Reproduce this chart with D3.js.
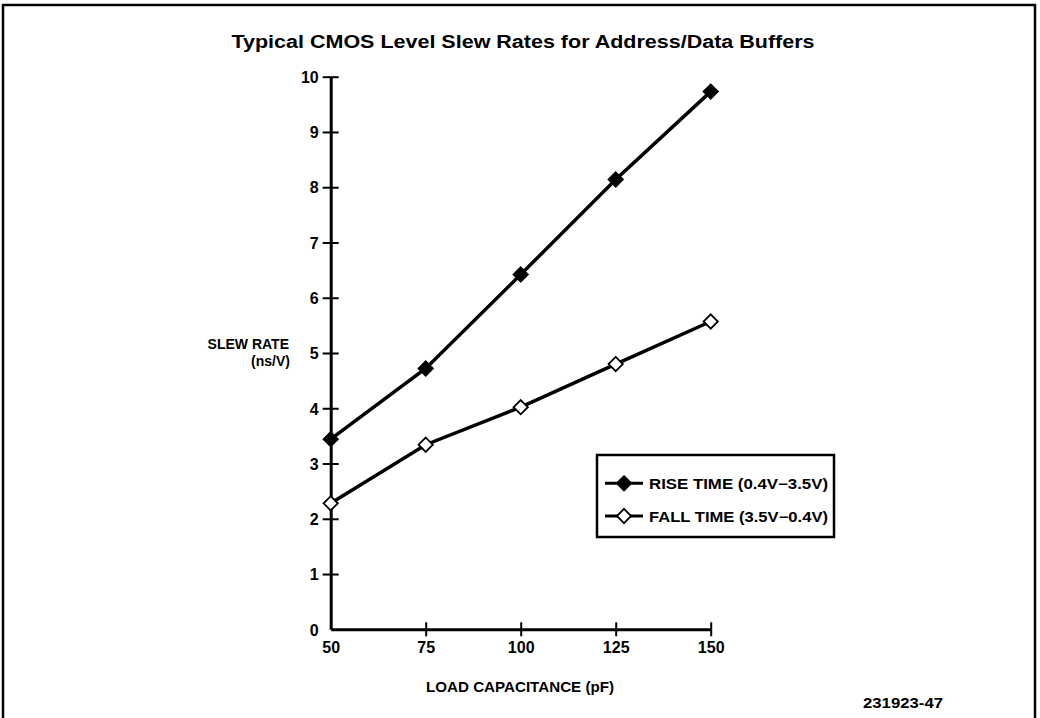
<!DOCTYPE html>
<html>
<head>
<meta charset="utf-8">
<script src="https://cdn.jsdelivr.net/npm/d3@7"></script>
<style>
  html, body { margin: 0; padding: 0; background: #fff; }
  svg { display: block; }
  text { font-family: "Liberation Sans", Arial, sans-serif; fill: #000; }
</style>
</head>
<body>
<svg id="chart" width="1040" height="718"></svg>
<script>
// ---- data ----
const capacitance = [50, 75, 100, 125, 150];
const riseTime = [3.44, 4.72, 6.42, 8.14, 9.73];
const fallTime = [2.28, 3.34, 4.02, 4.80, 5.57];
const xTicks = [50, 75, 100, 125, 150];
const yTicks = [0, 1, 2, 3, 4, 5, 6, 7, 8, 9, 10];
const seriesNames = ["RISE TIME (0.4V\u22123.5V)", "FALL TIME (3.5V\u22120.4V)"];
const titleText = "Typical CMOS Level Slew Rates for Address/Data Buffers";
const yLabelLines = ["SLEW RATE", "(ns/V)"];
const xLabelText = "LOAD CAPACITANCE (pF)";
const figureId = "231923-47";

const svg = d3.select("#chart");

// frame
svg.append("path")
  .attr("d", "M3,718 V5 H1035 V718")
  .attr("fill", "none").attr("stroke", "#000").attr("stroke-width", 2.5);

const x = d3.scaleLinear().domain([50, 150]).range([330.7, 710.7]);
const y = d3.scaleLinear().domain([0, 10]).range([629.3, 76.7]);

// title
svg.append("text")
  .attr("x", 523).attr("y", 48)
  .attr("text-anchor", "middle")
  .attr("font-size", 18).attr("font-weight", "bold")
  .attr("textLength", 583).attr("lengthAdjust", "spacingAndGlyphs")
  .text(titleText);

// y axis
const yAxis = d3.axisLeft(y).tickValues(yTicks).tickFormat(d3.format("d"))
  .tickSize(0).tickPadding(12);
const gy = svg.append("g").attr("transform", `translate(${x(50)},0)`).call(yAxis);
gy.select(".domain").attr("stroke", "#000").attr("stroke-width", 3);
gy.selectAll(".tick text")
  .attr("font-size", 16).attr("font-weight", "bold")
  .attr("font-family", "Liberation Sans, Arial, sans-serif")
  .attr("fill", "#000").attr("dy", "0.36em");
gy.selectAll(".tick").filter(d => d > 0).append("line")
  .attr("x1", -8).attr("x2", 8).attr("stroke", "#000").attr("stroke-width", 2);

// x axis
const xAxis = d3.axisBottom(x).tickValues(xTicks).tickFormat(d3.format("d"))
  .tickSize(0).tickPadding(14);
const gx = svg.append("g").attr("transform", `translate(0,${y(0)})`).call(xAxis);
gx.select(".domain").attr("stroke", "#000").attr("stroke-width", 3);
gx.selectAll(".tick text")
  .attr("font-size", 16).attr("font-weight", "bold")
  .attr("font-family", "Liberation Sans, Arial, sans-serif")
  .attr("fill", "#000").attr("dy", "0.6em");
gx.selectAll(".tick").filter(d => d > 50).append("line")
  .attr("y1", -7).attr("y2", 7).attr("stroke", "#000").attr("stroke-width", 2);

// axis labels
const yl = svg.append("text")
  .attr("text-anchor", "end").attr("font-size", 14).attr("font-weight", "bold");
yl.append("tspan").attr("x", 289).attr("y", 349).text(yLabelLines[0]);
yl.append("tspan").attr("x", 290).attr("y", 366).text(yLabelLines[1]);

svg.append("text")
  .attr("x", 520).attr("y", 692)
  .attr("text-anchor", "middle").attr("font-size", 15).attr("font-weight", "bold")
  .attr("textLength", 188).attr("lengthAdjust", "spacingAndGlyphs")
  .text(xLabelText);

svg.append("text")
  .attr("x", 943).attr("y", 708)
  .attr("text-anchor", "end").attr("font-size", 15).attr("font-weight", "bold")
  .attr("textLength", 80).attr("lengthAdjust", "spacingAndGlyphs")
  .text(figureId);

// series
const line = d3.line().x(d => x(d[0])).y(d => y(d[1]));
const diamond = d3.symbol().type(d3.symbolDiamond2).size(130);

const series = [
  { values: riseTime, fill: "#000" },
  { values: fallTime, fill: "#fff" }
];

series.forEach(s => {
  const pts = capacitance.map((c, i) => [c, s.values[i]]);
  svg.append("path").attr("d", line(pts))
    .attr("fill", "none").attr("stroke", "#000").attr("stroke-width", 3.5);
  svg.selectAll(null).data(pts).enter().append("path")
    .attr("d", diamond)
    .attr("transform", d => `translate(${x(d[0])},${y(d[1])})`)
    .attr("fill", s.fill).attr("stroke", "#000").attr("stroke-width", 1.8);
});

// legend
const lg = svg.append("g");
lg.append("rect")
  .attr("x", 597).attr("y", 455).attr("width", 237).attr("height", 82)
  .attr("fill", "#fff").attr("stroke", "#000").attr("stroke-width", 2.5);
const ly = [483.3, 516];
series.forEach((s, i) => {
  lg.append("line").attr("x1", 605).attr("x2", 643).attr("y1", ly[i]).attr("y2", ly[i])
    .attr("stroke", "#000").attr("stroke-width", 3);
  lg.append("path").attr("d", diamond)
    .attr("transform", `translate(624,${ly[i]})`)
    .attr("fill", s.fill).attr("stroke", "#000").attr("stroke-width", 1.8);
  lg.append("text").attr("x", 649).attr("y", ly[i] + 5.5)
    .attr("font-size", 14).attr("font-weight", "bold")
    .attr("textLength", 179).attr("lengthAdjust", "spacingAndGlyphs")
    .text(seriesNames[i]);
});
</script>
</body>
</html>
